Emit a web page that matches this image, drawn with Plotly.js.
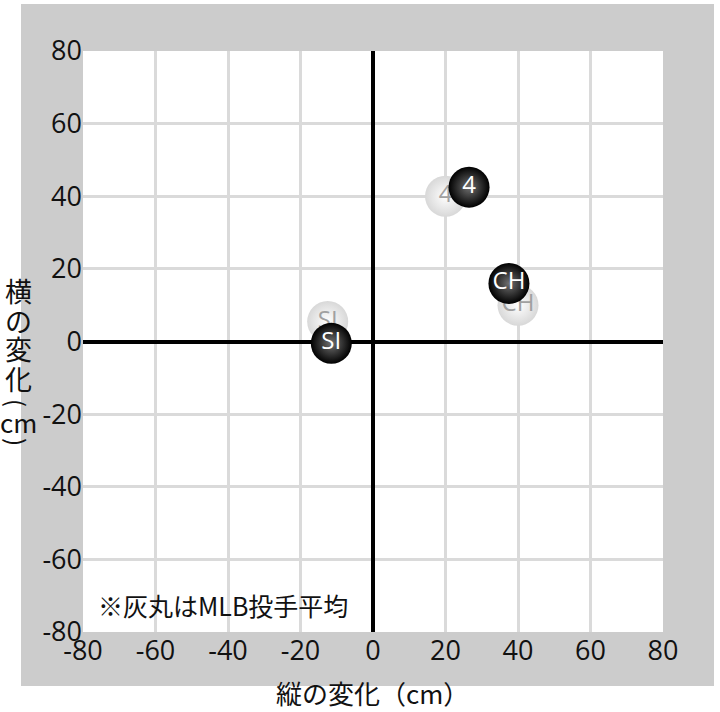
<!DOCTYPE html>
<html><head><meta charset="utf-8">
<script src="https://cdn.plot.ly/plotly-3.0.1.min.js"></script>
<style>html,body{margin:0;padding:0;background:#fff}#chart{width:720px;height:712px}</style>
</head><body><div id="chart"></div>
<script>
const pitchLabels = ['4', 'CH', 'SI'];
const mlbVertical = [20, 40, -12.5];
const mlbHorizontal = [40, 10, 5.5];
const playerVertical = [26.5, 37.5, -11.5];
const playerHorizontal = [42.5, 16, -0.5];
const tickVals = [-80, -60, -40, -20, 0, 20, 40, 60, 80];
const xTitle = '縦の変化（cm）';
const yTitleChars = ['横', 'の', '変', '化', '(', 'cm', ')'];
const noteText = '※灰丸はMLB投手平均';

const FONT = 'Open Sans, Noto Sans CJK JP, sans-serif';
const CJK = 'Noto Sans CJK JP, sans-serif';

// layout geometry (pixels)
const PLOT_L = 83, PLOT_R = 663, PLOT_T = 51, PLOT_B = 632;
const W = 720, H = 712;
const PW = PLOT_R - PLOT_L, PH = PLOT_B - PLOT_T;
const px2x = p => (p - PLOT_L) / PW;
const py2y = p => (PLOT_B - p) / PH;
const yTitleCenters = [290, 320, 348, 378, 403, 421, 442];
const yTitleAngles = [0, 0, 0, 0, 90, 0, 90];
const yTitleSizes = [27, 27, 27, 27, 24, 26, 24];

const traces = [
  {
    type: 'scatter', mode: 'markers+text',
    x: mlbVertical, y: mlbHorizontal, text: pitchLabels,
    textposition: 'middle center',
    textfont: {family: FONT, size: 24, color: '#a0a0a0'},
    marker: {size: 41, color: '#d8d8d8', gradient: {type: 'radial', color: '#ffffff'}, line: {width: 0}},
    cliponaxis: false, hoverinfo: 'skip', showlegend: false
  },
  {
    type: 'scatter', mode: 'markers+text',
    x: playerVertical, y: playerHorizontal, text: pitchLabels,
    textposition: 'middle center',
    textfont: {family: FONT, size: 24, color: '#ffffff'},
    marker: {size: 41, color: '#000000', gradient: {type: 'radial', color: '#707070'}, line: {width: 0}},
    cliponaxis: false, hoverinfo: 'skip', showlegend: false
  }
];

const axisCommon = {
  range: [-80, 80], tickvals: tickVals, ticktext: tickVals.map(String),
  showgrid: true, gridcolor: '#dadada', gridwidth: 3,
  zeroline: true, zerolinecolor: '#000000', zerolinewidth: 4,
  showline: false, ticks: '', fixedrange: true,
  tickfont: {family: FONT, size: 27, color: '#111111'}
};

const yTitleAnns = yTitleChars.map((c, i) => ({
  xref: 'paper', yref: 'paper', x: px2x(18), y: py2y(yTitleCenters[i]),
  xanchor: 'center', yanchor: 'middle', text: c, showarrow: false,
  textangle: yTitleAngles[i], borderpad: 0,
  font: {family: CJK, size: yTitleSizes[i], color: '#111111'}
}));

const layout = {
  width: W, height: H,
  margin: {l: PLOT_L, r: W - PLOT_R, t: PLOT_T, b: H - PLOT_B, pad: 0},
  paper_bgcolor: '#ffffff', plot_bgcolor: '#ffffff',
  xaxis: Object.assign({}, axisCommon, {title: {text: ''}}),
  yaxis: Object.assign({}, axisCommon, {title: {text: ''}}),
  shapes: [
    {type: 'rect', xref: 'paper', yref: 'paper', x0: px2x(21), x1: px2x(714), y0: py2y(686), y1: py2y(4),
     fillcolor: '#cccccc', line: {width: 0}, layer: 'below'},
    {type: 'rect', xref: 'paper', yref: 'paper', x0: 0, x1: 1, y0: 0, y1: 1,
     fillcolor: '#ffffff', line: {width: 0}, layer: 'below'}
  ],
  annotations: yTitleAnns.concat([
    {xref: 'paper', yref: 'paper', x: px2x(372), y: py2y(692), xanchor: 'center', yanchor: 'middle',
     text: xTitle, showarrow: false,
     font: {family: CJK, size: 26, color: '#111111'}},
    {xref: 'paper', yref: 'paper', x: px2x(96), y: py2y(605), xanchor: 'left', yanchor: 'middle',
     text: noteText, showarrow: false,
     font: {family: CJK, size: 25, color: '#111111'}}
  ])
};

Plotly.newPlot('chart', traces, layout, {staticPlot: true});
</script></body></html>
